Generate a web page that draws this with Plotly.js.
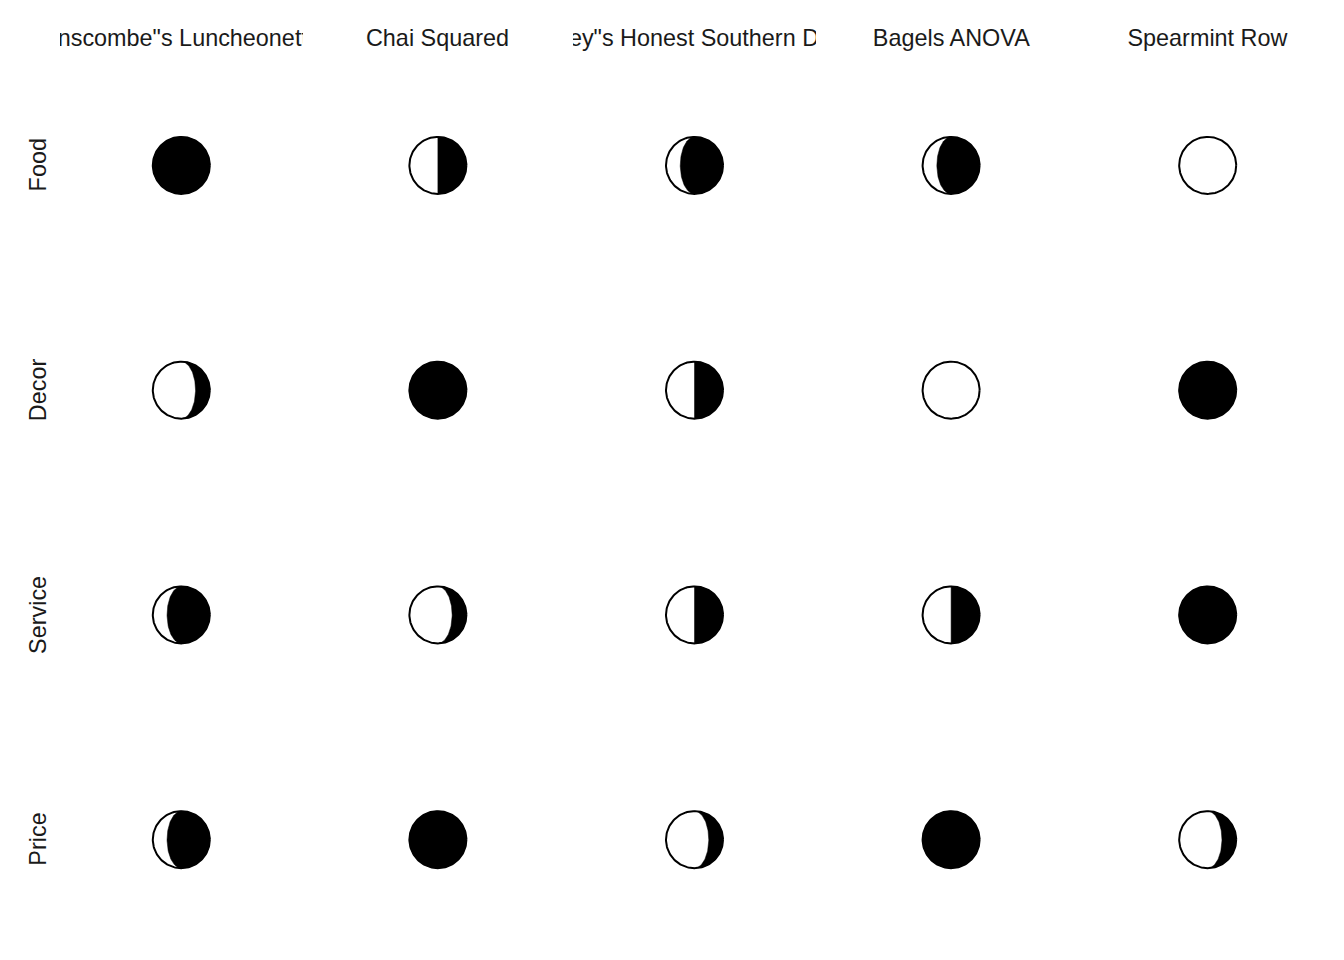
<!DOCTYPE html>
<html>
<head>
<meta charset="utf-8">
<script src="https://cdn.plot.ly/plotly-3.0.1.min.js"></script>
<style>html,body{margin:0;padding:0;background:#ffffff;}</style>
</head>
<body>
<div id="chart" style="width:1344px;height:960px;"></div>
<script>
// ---- data (ratings 1-5, moon filled by (score-1)/4) ----
const restaurants = ['Anscombe"s Luncheonette', 'Chai Squared', 'Tukey"s Honest Southern Diner', 'Bagels ANOVA', 'Spearmint Row'];
const categories = ['Food', 'Decor', 'Service', 'Price'];
const food    = [5, 3, 4, 4, 1];
const decor   = [2, 5, 3, 1, 5];
const service = [4, 2, 3, 3, 5];
const price   = [4, 5, 2, 5, 2];
const scores = [food, decor, service, price];

// ---- layout constants ----
const W = 1344, H = 960;
const M = {l: 53, r: 8, t: 53, b: 8};
const plotW = W - M.l - M.r, plotH = H - M.t - M.b;
const R_PX = 28.5;
const rx = R_PX / (plotW / restaurants.length);
const ry = R_PX / (plotH / categories.length);
const N = 72;

function moonTraces(cx, cy, ratio) {
  const out = [];
  const cxs = [], cys = [];
  for (let i = 0; i <= 2 * N; i++) {
    const t = Math.PI * i / N;
    cxs.push(cx + rx * Math.cos(t));
    cys.push(cy + ry * Math.sin(t));
  }
  out.push({type: 'scatter', mode: 'lines', x: cxs, y: cys, fill: 'toself',
    fillcolor: '#ffffff', line: {color: '#000000', width: 2}, hoverinfo: 'skip', showlegend: false});
  if (ratio > 0) {
    const k = 1 - 2 * ratio;
    const xs = [], ys = [];
    for (let i = 0; i <= N; i++) {
      const t = -Math.PI / 2 + Math.PI * i / N;
      xs.push(cx + rx * Math.cos(t));
      ys.push(cy + ry * Math.sin(t));
    }
    for (let i = 0; i <= N; i++) {
      const t = Math.PI / 2 - Math.PI * i / N;
      xs.push(cx + k * rx * Math.cos(t));
      ys.push(cy + ry * Math.sin(t));
    }
    out.push({type: 'scatter', mode: 'lines', x: xs, y: ys, fill: 'toself',
      fillcolor: '#000000', line: {color: '#000000', width: 0.5}, hoverinfo: 'skip', showlegend: false});
  }
  return out;
}

const traces = [];
categories.forEach((cat, j) => {
  restaurants.forEach((name, i) => {
    const ratio = (scores[j][i] - 1) / 4;
    traces.push(...moonTraces(i, j, ratio));
  });
});

const font = {family: 'Liberation Sans, Arial, sans-serif', size: 23.4, color: '#1A1A1A'};
const annotations = [];
restaurants.forEach((name, i) => {
  annotations.push({text: name, x: i, xref: 'x', y: 1, yref: 'paper', yanchor: 'middle',
    xanchor: 'center', yshift: 15, width: 243, align: 'center', showarrow: false, font: font});
});
categories.forEach((cat, j) => {
  annotations.push({text: cat, x: 0, xref: 'paper', xshift: -15, y: j, yref: 'y',
    xanchor: 'center', yanchor: 'middle', textangle: -90, showarrow: false, font: font});
});

const layout = {
  width: W, height: H,
  margin: M,
  paper_bgcolor: '#ffffff', plot_bgcolor: '#ffffff',
  showlegend: false,
  xaxis: {range: [-0.5, restaurants.length - 0.5], visible: false, fixedrange: true},
  yaxis: {range: [categories.length - 0.5, -0.5], visible: false, fixedrange: true},
  annotations: annotations
};

Plotly.newPlot('chart', traces, layout, {displayModeBar: false, staticPlot: true});
</script>
</body>
</html>
